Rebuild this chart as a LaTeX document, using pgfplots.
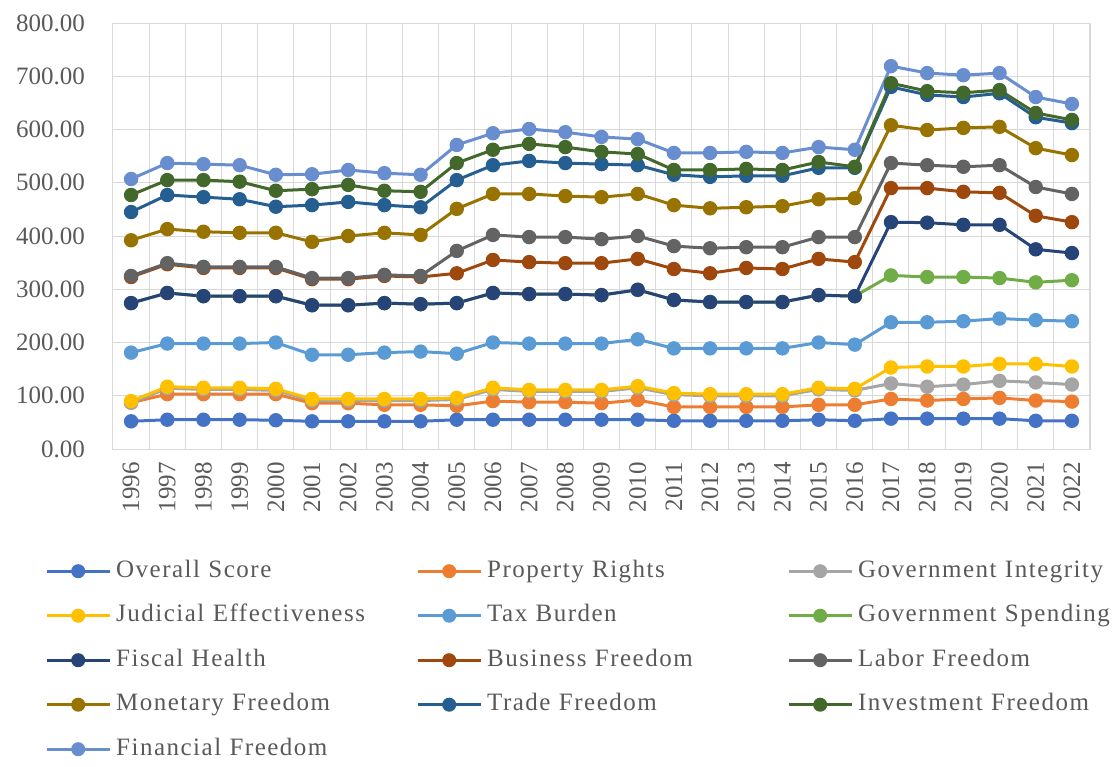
\documentclass[border=0pt]{standalone}
\usepackage{fontspec}
\setmainfont{Liberation Serif}
\newfontfamily\legfont[LetterSpace=6]{Liberation Serif}
\usepackage{pgfplots}
\usepackage{pgfplotstable}
\pgfplotsset{compat=1.18}
\definecolor{cOS}{HTML}{4472C4}
\definecolor{cPR}{HTML}{ED7D31}
\definecolor{cGI}{HTML}{A5A5A5}
\definecolor{cJE}{HTML}{FFC000}
\definecolor{cTB}{HTML}{5B9BD5}
\definecolor{cGS}{HTML}{70AD47}
\definecolor{cFH}{HTML}{264478}
\definecolor{cBF}{HTML}{9E480E}
\definecolor{cLF}{HTML}{636363}
\definecolor{cMF}{HTML}{997300}
\definecolor{cTF}{HTML}{255E91}
\definecolor{cIF}{HTML}{43682B}
\definecolor{cFF}{HTML}{698ED0}
\definecolor{gridc}{HTML}{D9D9D9}
\definecolor{tickc}{HTML}{595959}

\pgfplotstableread{
year os pr gi je tb gs fh bf lf mf tf inv ff
1996 52 87 87 90 181 274 274 323 325 392 445 477 507
1997 55 103 114 117 198 293 293 347 349 413 477 505 537
1998 55 103 112 115 198 287 287 340 342 408 473 505 535
1999 55 103 112 115 198 287 287 340 342 406 469 502 533
2000 54 103 110 113 200 287 287 340 342 406 455 485 515
2001 52 86 91 94 177 270 270 319 321 389 458 488 516
2002 52 86 91 94 177 270 270 319 321 400 464 496 524
2003 52 83 91 94 181 274 274 325 327 406 458 485 518
2004 52 83 91 94 183 272 272 323 325 402 454 483 515
2005 55 81 93 96 179 274 274 330 372 451 505 537 571
2006 55 90 112 115 200 293 293 355 402 479 533 562 593
2007 55 88 108 111 198 291 291 351 398 479 541 573 601
2008 55 88 108 111 198 291 291 349 398 475 537 567 595
2009 55 86 108 111 198 289 289 349 394 473 535 558 586
2010 55 92 115 118 206 299 299 357 400 479 533 554 582
2011 53 79 102 105 189 280 280 338 381 458 515 524 556
2012 53 79 100 103 189 276 276 330 377 452 511 524 556
2013 53 79 100 103 189 276 276 340 379 454 513 526 558
2014 53 79 100 103 189 276 276 338 379 456 513 524 556
2015 55 83 112 115 200 289 289 357 398 469 528 539 567
2016 53 83 110 113 196 287 287 351 398 471 528 530 562
2017 57 94 123 153 238 326 426 490 537 608 680 687 719
2018 57 91 117 155 238 323 425 490 533 599 665 672 706
2019 57 94 121 155 240 323 421 483 530 603 661 669 702
2020 57 96 128 160 245 321 421 481 533 605 668 674 706
2021 53 91 125 160 242 313 375 438 492 565 623 631 661
2022 53 89 121 155 240 317 368 426 479 552 612 618 648
}\data

\begin{document}
\begin{tikzpicture}
\path[use as bounding box] (-113pt,-317pt) rectangle (1001pt,449pt);
\begin{axis}[
  at={(0,0)}, anchor=south west,
  width=977pt, height=426pt, scale only axis,
  xmin=1995.5, xmax=2022.5, ymin=0, ymax=800,
  xtick={1996,...,2022}, ytick={0,100,...,800},
  minor xtick={1995.5,1996.5,...,2022.5},
  xminorgrids=true, xmajorgrids=false, ymajorgrids=true,
  grid style={draw=gridc, line width=1pt},
  minor grid style={draw=gridc, line width=1pt},
  major tick length=0pt, minor tick length=0pt,
  axis line style={draw=gridc, line width=1pt},
  /pgf/number format/assume math mode=true,
  tick label style={font=\fontsize{25}{30}\selectfont, text=tickc},
  xticklabel style={inner sep=0pt, anchor=east, yshift=-13pt, rotate=90, /pgf/number format/1000 sep={}},
  yticklabel style={inner sep=0pt, anchor=east, xshift=-28pt, /pgf/number format/.cd, fixed, fixed zerofill, precision=2, 1000 sep={}},
  s/.style={line width=3pt, mark=*, mark size=6.2pt, mark options={line width=2pt}},
  legend columns=3,
  legend style={draw=none, fill=none, at={(0,0)}, anchor=north west,
    xshift=-68pt, yshift=-114pt,
    font=\legfont\fontsize{25}{29}\selectfont, text=tickc,
    inner sep=0pt, row sep=28.5pt, column sep=0pt,
    nodes={inner xsep=5pt, inner ysep=0pt, text width=295pt, text height=14pt, text depth=2pt, anchor=west},
    cells={anchor=west}},
  legend image code/.code={\draw[mark repeat=2, mark phase=2, mark size=6pt] plot coordinates {(0pt,0pt) (31.5pt,0pt) (63pt,0pt)};},
]
\addplot[s, color=cOS] table[x=year,y=os]{\data};
\addlegendentry{Overall Score}
\addplot[s, color=cPR] table[x=year,y=pr]{\data};
\addlegendentry{Property Rights}
\addplot[s, color=cGI] table[x=year,y=gi]{\data};
\addlegendentry{Government Integrity}
\addplot[s, color=cJE] table[x=year,y=je]{\data};
\addlegendentry{Judicial Effectiveness}
\addplot[s, color=cTB] table[x=year,y=tb]{\data};
\addlegendentry{Tax Burden}
\addplot[s, color=cGS] table[x=year,y=gs]{\data};
\addlegendentry{Government Spending}
\addplot[s, color=cFH] table[x=year,y=fh]{\data};
\addlegendentry{Fiscal Health}
\addplot[s, color=cBF] table[x=year,y=bf]{\data};
\addlegendentry{Business Freedom}
\addplot[s, color=cLF] table[x=year,y=lf]{\data};
\addlegendentry{Labor Freedom}
\addplot[s, color=cMF] table[x=year,y=mf]{\data};
\addlegendentry{Monetary Freedom}
\addplot[s, color=cTF] table[x=year,y=tf]{\data};
\addlegendentry{Trade Freedom}
\addplot[s, color=cIF] table[x=year,y=inv]{\data};
\addlegendentry{Investment Freedom}
\addplot[s, color=cFF] table[x=year,y=ff]{\data};
\addlegendentry{Financial Freedom}
\end{axis}
\end{tikzpicture}
\end{document}
